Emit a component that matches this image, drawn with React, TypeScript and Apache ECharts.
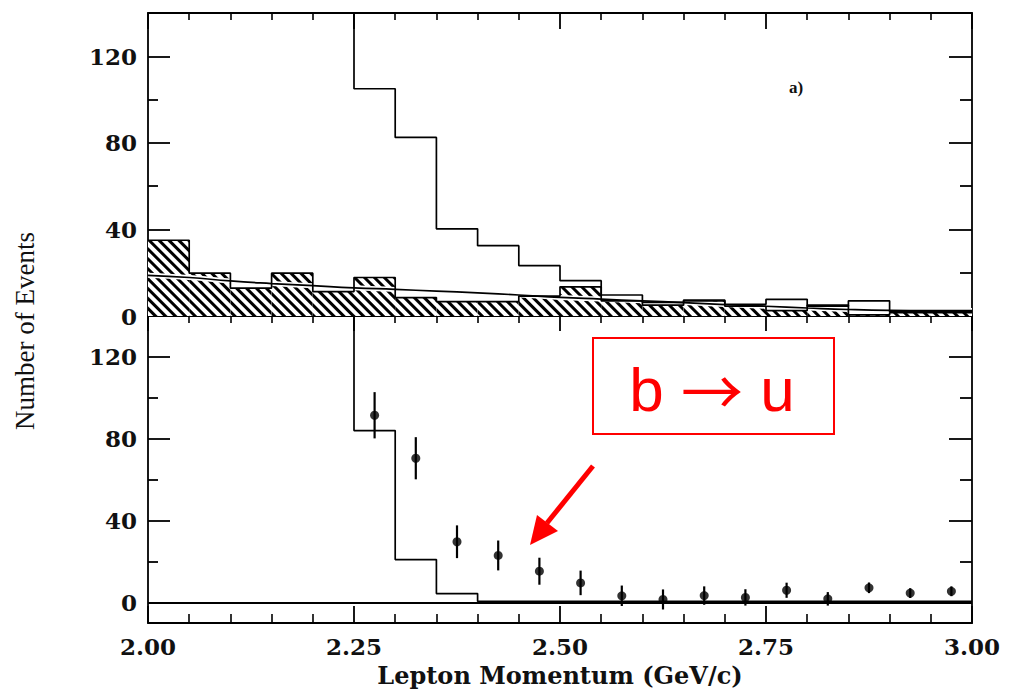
import React, { useEffect, useRef } from "react";
import * as echarts from "echarts";

// ---- data ----
const binStarts = [2.0, 2.05, 2.1, 2.15, 2.2, 2.25, 2.3, 2.35, 2.4, 2.45, 2.5, 2.55, 2.6, 2.65, 2.7, 2.75, 2.8, 2.85, 2.9, 2.95];
const binLabels = binStarts.map((v) => v.toFixed(2));
// scaled continuum (hatched histogram), top panel
const continuumCounts = [35, 19.8, 12.9, 19.8, 11.3, 17.8, 8.5, 6.6, 6.6, 9.2, 13.5, 7, 5, 7, 4.5, 2.5, 5, 0.5, 1.5, 1.5];
// fit to continuum (smooth curve), at bin edges
const fitX = [2.0, 2.05, 2.1, 2.15, 2.2, 2.25, 2.3, 2.35, 2.4, 2.45, 2.5, 2.55, 2.6, 2.65, 2.7, 2.75, 2.8, 2.85, 2.9, 2.95, 3.0];
const fitY = [18.8, 17.8, 16.2, 15, 14, 13, 12.3, 11.5, 10.7, 9.7, 8.6, 7.8, 7, 6.2, 5.3, 4.5, 3.7, 3.0, 2.6, 2.5, 2.5];
// on-resonance histogram (open), top panel; first bin is off scale
const onResStarts = [2.2, 2.25, 2.3, 2.35, 2.4, 2.45, 2.5, 2.55, 2.6, 2.65, 2.7, 2.75, 2.8, 2.85, 2.9, 2.95];
const onResCounts = [160, 105, 82.5, 40.3, 32.5, 23.3, 16.3, 9.7, 6.3, 7.4, 5.4, 7.7, 4.5, 7, 2, 2];
// b -> c prediction (open histogram), bottom panel; first bin off scale
const bcStarts = [2.2, 2.25, 2.3, 2.35, 2.4, 2.45, 2.5, 2.55, 2.6, 2.65, 2.7, 2.75, 2.8, 2.85, 2.9, 2.95];
const bcCounts = [160, 84, 21, 4.4, 0.6, 0.6, 0.6, 0.6, 0.6, 0.6, 0.6, 0.6, 0.6, 0.6, 0.6, 0.6];
// continuum-subtracted data points with errors
const pointX = [2.275, 2.325, 2.375, 2.425, 2.475, 2.525, 2.575, 2.625, 2.675, 2.725, 2.775, 2.825, 2.875, 2.925, 2.975];
const pointY = [91.5, 70.5, 29.7, 23, 15.3, 9.6, 3.3, 1.5, 3.4, 2.5, 6, 1.8, 7.2, 4.6, 5.5];
const pointErr = [11.3, 10.3, 8, 7.3, 6.6, 6, 5, 4.9, 4.5, 4, 3.7, 3.3, 2.6, 2.4, 2.4];

const yMajorTicks = [0, 40, 80, 120];
const yMinorTicks = [20, 60, 100];
const xEnd = 3.0;

const FONT = "DejaVu Serif";

function stepData(starts: number[], vals: number[]) {
  const d = starts.map((x, i) => [x, vals[i]]);
  d.push([xEnd, vals[vals.length - 1]]);
  return d;
}

function yAxesFor(grid: number, min: number, max: number) {
  const line = { color: "#000", width: 1.8 };
  return [
    {
      type: "value", gridIndex: grid, min, max, position: "left",
      axisLine: { show: true, onZero: false, lineStyle: line },
      axisTick: { show: true, inside: true, length: 22, customValues: yMajorTicks, lineStyle: line },
      axisLabel: { show: true, customValues: yMajorTicks, margin: 11, fontFamily: FONT, fontSize: 23, fontWeight: "bold", color: "#111" },
      splitLine: { show: false },
    },
    {
      type: "value", gridIndex: grid, min, max, position: "left",
      axisLine: { show: false },
      axisTick: { show: true, inside: true, length: 10, customValues: yMinorTicks, lineStyle: line },
      axisLabel: { show: false },
      splitLine: { show: false },
    },
    {
      type: "value", gridIndex: grid, min, max, position: "right",
      axisLine: { show: true, onZero: false, lineStyle: line },
      axisTick: { show: true, inside: true, length: 23, customValues: yMajorTicks, lineStyle: line },
      axisLabel: { show: false },
      splitLine: { show: false },
    },
    {
      type: "value", gridIndex: grid, min, max, position: "right",
      axisLine: { show: false },
      axisTick: { show: true, inside: true, length: 12, customValues: yMinorTicks, lineStyle: line },
      axisLabel: { show: false },
      splitLine: { show: false },
    },
  ];
}

function xValueAxis(grid: number, position: string, major: number, minor: number, labels: boolean) {
  const line = { color: "#000", width: 1.8 };
  return {
    type: "value", gridIndex: grid, position, min: 2, max: 3, interval: 0.25,
    axisLine: { show: true, onZero: false, lineStyle: line },
    axisTick: { show: true, inside: true, length: major, lineStyle: line },
    minorTick: { show: true, splitNumber: 5, length: minor, lineStyle: { color: "#000", width: 1.6 } },
    axisLabel: labels
      ? { show: true, margin: 12, formatter: (v: number) => v.toFixed(2), fontFamily: FONT, fontSize: 23, fontWeight: "bold", color: "#111" }
      : { show: false },
    splitLine: { show: false },
    minorSplitLine: { show: false },
  };
}

export default function App() {
  const ref = useRef<HTMLDivElement>(null);
  useEffect(() => {
    if (!ref.current) return;
    const chart = echarts.init(ref.current, null, { renderer: "svg" });
    const hatch = {
      symbol: "rect",
      symbolSize: 1,
      color: "#000",
      dashArrayX: [1, 0],
      dashArrayY: [2.3, 4],
      rotation: Math.PI / 4,
    };
    const xBottom: any = xValueAxis(1, "bottom", 17, 9, true);
    xBottom.name = "Lepton Momentum (GeV/c)";
    xBottom.nameLocation = "middle";
    xBottom.nameGap = 40;
    xBottom.nameTextStyle = { fontFamily: FONT, fontSize: 24, fontWeight: "bold", color: "#111" };

    const option: any = {
      animation: false,
      backgroundColor: "#fff",
      grid: [
        { left: 148, right: 48, top: 13, height: 303 },
        { left: 148, right: 48, top: 316, height: 307 },
      ],
      xAxis: [
        xValueAxis(0, "top", 16, 7, false),
        { type: "category", gridIndex: 0, data: binLabels, show: false, boundaryGap: true },
        xValueAxis(1, "top", 15, 7, false),
        xBottom,
      ],
      yAxis: [...yAxesFor(0, 0, 140), ...yAxesFor(1, -10, 140)],
      series: [
        {
          type: "bar", xAxisIndex: 1, yAxisIndex: 0, data: continuumCounts,
          barWidth: "100%", barCategoryGap: 0, silent: true,
          itemStyle: { color: "#fff", decal: hatch },
        },
        {
          type: "line", xAxisIndex: 0, yAxisIndex: 0, data: fitX.map((x, i) => [x, fitY[i]]),
          smooth: true, symbol: "none", silent: true,
          lineStyle: { color: "#fff", width: 5 },
        },
        {
          type: "line", xAxisIndex: 0, yAxisIndex: 0, data: stepData(binStarts, continuumCounts),
          step: "end", symbol: "none", silent: true,
          lineStyle: { color: "#000", width: 1.7 },
        },
        {
          type: "line", xAxisIndex: 0, yAxisIndex: 0, data: fitX.map((x, i) => [x, fitY[i]]),
          smooth: true, symbol: "none", silent: true,
          lineStyle: { color: "#000", width: 1.7 },
        },
        {
          type: "line", xAxisIndex: 0, yAxisIndex: 0, data: stepData(onResStarts, onResCounts),
          step: "end", symbol: "none", silent: true, clip: true,
          lineStyle: { color: "#000", width: 1.7 },
        },
        {
          type: "line", xAxisIndex: 3, yAxisIndex: 4, data: stepData(bcStarts, bcCounts),
          step: "end", symbol: "none", silent: true, clip: true,
          lineStyle: { color: "#000", width: 1.7 },
          markLine: {
            silent: true, symbol: "none", label: { show: false },
            lineStyle: { color: "#000", width: 1.8, type: "solid" },
            data: [{ yAxis: 0 }],
          },
        },
        {
          type: "custom", xAxisIndex: 3, yAxisIndex: 4, silent: true,
          data: pointX.map((x, i) => [x, pointY[i], pointErr[i]]),
          encode: { x: 0, y: 1 },
          renderItem: (params: any, api: any) => {
            const x = api.value(0), y = api.value(1), e = api.value(2);
            const p1 = api.coord([x, y - e]);
            const p2 = api.coord([x, y + e]);
            return {
              type: "line",
              shape: { x1: p1[0], y1: p1[1], x2: p2[0], y2: p2[1] },
              style: { stroke: "#000", lineWidth: 2.2 },
            };
          },
        },
        {
          type: "scatter", xAxisIndex: 3, yAxisIndex: 4, silent: true,
          data: pointX.map((x, i) => [x, pointY[i]]),
          symbol: "circle", symbolSize: 9,
          itemStyle: { color: "#000" },
        },
      ],
      graphic: [
        {
          type: "text", x: 25, y: 331, rotation: Math.PI / 2,
          style: { text: "Number of Events", fontFamily: "Liberation Serif", fontSize: 27, fill: "#111", align: "center", verticalAlign: "middle" },
        },
        {
          type: "text", x: 796, y: 87,
          style: { text: "a)", fontFamily: "Liberation Serif", fontSize: 17, fontWeight: "bold", fill: "#111", align: "center", verticalAlign: "middle" },
        },
        {
          type: "rect", shape: { x: 593, y: 338, width: 241, height: 96 },
          style: { fill: "none", stroke: "#ff0000", lineWidth: 2 },
        },
        {
          type: "text", x: 712, y: 389,
          style: {
            text: "{t|b }{a|\u2192}{t| u}",
            align: "center", verticalAlign: "middle",
            rich: {
              t: { fontFamily: "Liberation Sans", fontSize: 62, fill: "#ff0000", color: "#ff0000" },
              a: { fontFamily: "Noto Sans CJK SC", fontSize: 62, fill: "#ff0000", color: "#ff0000" },
            },
          },
        },
        {
          type: "line", shape: { x1: 593, y1: 466, x2: 547, y2: 523 },
          style: { stroke: "#ff0000", lineWidth: 5 },
        },
        {
          type: "polygon", shape: { points: [[530, 545], [558, 531], [537, 515]] },
          style: { fill: "#ff0000" },
        },
      ],
    };
    chart.setOption(option);
    return () => chart.dispose();
  }, []);
  return <div ref={ref} style={{ position: "fixed", left: 0, top: 0, width: 1020, height: 691, background: "#fff" }} />;
}
